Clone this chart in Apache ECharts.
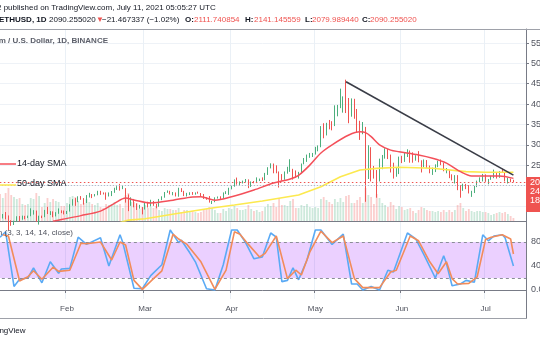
<!DOCTYPE html>
<html><head><meta charset="utf-8">
<script src="https://cdn.jsdelivr.net/npm/echarts@6/dist/echarts.min.js"></script>
<style>html,body{margin:0;padding:0;background:#fff}#c{width:540px;height:340px}</style>
</head><body><div id="c"></div>
<script>
// ETHUSD daily candles, 2021-01-07 .. 2021-07-11, rows are [open, close, low, high]
const ohlc = [
  // Jan 7 - Jan 31
  [1208,1225,1130,1282],[1225,1224,1100,1265],[1224,1281,1190,1300],[1281,1262,1170,1348],
  [1262,1090,900,1265],[1090,1043,1010,1147],[1043,1130,1030,1135],[1130,1218,1108,1245],
  [1218,1171,1120,1250],[1171,1233,1160,1260],[1233,1230,1170,1255],[1230,1257,1200,1260],
  [1257,1377,1245,1440],[1377,1382,1285,1395],[1382,1121,1110,1385],[1121,1236,1040,1258],
  [1236,1232,1200,1260],[1232,1390,1222,1400],[1390,1324,1300,1475],[1324,1357,1275,1370],
  [1357,1253,1220,1365],[1253,1332,1240,1345],[1332,1382,1305,1437],[1382,1378,1320,1390],
  [1378,1314,1290,1385],
  // Feb
  [1314,1369,1300,1375],[1369,1514,1360,1540],[1514,1660,1505,1665],[1660,1594,1500,1690],
  [1594,1718,1590,1735],[1718,1677,1650,1740],[1677,1614,1530,1690],[1614,1746,1570,1765],
  [1746,1768,1705,1820],[1768,1743,1690,1790],[1743,1783,1730,1790],[1783,1843,1760,1870],
  [1843,1814,1770,1870],[1814,1800,1780,1830],[1800,1779,1650,1830],[1779,1781,1730,1830],
  [1781,1849,1740,1865],[1849,1937,1820,1945],[1937,1960,1890,1985],[1960,1919,1875,2040],
  [1919,1935,1910,1990],[1935,1781,1580,1935],[1781,1570,1370,1782],[1570,1626,1500,1710],
  [1626,1475,1465,1670],[1475,1446,1400,1560],[1446,1459,1430,1525],[1459,1417,1290,1470],
  // Mar
  [1417,1564,1410,1570],[1564,1492,1460,1600],[1492,1575,1485,1650],[1575,1541,1500,1620],
  [1541,1533,1440,1550],[1533,1654,1480,1670],[1654,1723,1640,1735],[1723,1834,1700,1840],
  [1834,1868,1820,1880],[1868,1795,1780,1870],[1795,1826,1760,1840],[1826,1765,1730,1830],
  [1765,1924,1725,1945],[1924,1855,1840,1935],[1855,1791,1740,1870],[1791,1806,1730,1820],
  [1806,1823,1765,1835],[1823,1782,1770,1840],[1782,1813,1775,1830],[1813,1809,1800,1850],
  [1809,1781,1730,1815],[1781,1680,1670,1790],[1680,1669,1650,1710],[1669,1586,1580,1740],
  [1586,1594,1545,1620],[1594,1700,1590,1710],[1700,1715,1680,1730],[1715,1689,1670,1735],
  [1689,1816,1680,1830],[1816,1841,1790,1860],[1841,1918,1770,1945],
  // Apr
  [1918,1977,1905,1995],[1977,2143,1970,2150],[2143,2028,2020,2195],[2028,2093,2005,2100],
  [2093,2108,2050,2120],[2108,2117,2075,2160],[2117,1971,1935,2150],[1971,2088,1965,2100],
  [2088,2072,2055,2110],[2072,2136,2060,2200],[2136,2158,2110,2170],[2158,2139,2110,2200],
  [2139,2300,2130,2310],[2300,2431,2260,2450],[2431,2515,2420,2545],[2515,2421,2300,2540],
  [2421,2317,2300,2495],[2317,2235,1950,2345],[2235,2171,2120,2280],[2171,2330,2140,2345],
  [2330,2364,2290,2460],[2364,2403,2335,2645],[2403,2363,2145,2410],[2363,2213,2190,2370],
  [2213,2302,2170,2335],[2302,2534,2300,2540],[2534,2663,2520,2675],[2663,2746,2580,2760],
  [2746,2756,2680,2800],[2756,2773,2700,2800],
  // May
  [2773,2945,2760,2950],[2945,2950,2840,2985],[2950,3431,2940,3460],[3431,3253,3160,3530],
  [3253,3522,3230,3540],[3522,3490,3380,3610],[3490,3484,3355,3580],[3484,3902,3460,3970],
  [3902,3928,3700,3980],[3928,3952,3900,4380],[3952,4168,3790,4190],[4168,3785,3780,4600],
  [3785,3715,3530,4150],[3715,4079,3690,4140],[4079,3643,3640,4130],[3643,3589,3300,3880],
  [3589,3282,3120,3590],[3282,3374,3260,3560],[3374,2460,1600,3440],[2460,2784,2160,2990],
  [2784,2429,2100,2940],[2429,2296,2170,2480],[2296,2109,1700,2380],[2109,2643,2100,2660],
  [2643,2706,2400,2750],[2706,2888,2660,2915],[2888,2736,2650,2900],[2736,2419,2320,2760],
  [2419,2279,2170,2560],[2279,2387,2215,2450],[2387,2706,2280,2710],
  // Jun
  [2706,2634,2550,2730],[2634,2706,2580,2800],[2706,2855,2700,2890],[2855,2688,2560,2860],
  [2688,2630,2560,2815],[2630,2715,2610,2745],[2715,2590,2570,2845],[2590,2517,2320,2620],
  [2517,2611,2450,2640],[2611,2472,2430,2625],[2472,2354,2300,2490],[2354,2372,2260,2440],
  [2372,2508,2330,2520],[2508,2585,2450,2610],[2585,2547,2500,2640],[2547,2368,2350,2560],
  [2368,2372,2300,2430],[2372,2231,2180,2380],[2231,2178,2125,2275],[2178,2245,2050,2255],
  [2245,1888,1885,2255],[1888,1874,1700,2010],[1874,1990,1870,2045],[1990,1989,1910,2040],
  [1989,1813,1805,2010],[1813,1829,1720,1870],[1829,1978,1815,1990],[1978,2084,1960,2120],
  [2084,2167,2080,2200],[2167,2275,2100,2285],
  // Jul 1 - Jul 11
  [2275,2114,2090,2275],[2114,2150,2030,2160],[2150,2226,2140,2240],[2226,2322,2180,2390],
  [2322,2198,2170,2325],[2198,2324,2190,2355],[2324,2316,2310,2410],[2316,2117,2100,2320],
  [2117,2146,2050,2190],[2146,2111.740854,2080,2170],
  [2111.740854,2090.255020,2079.989440,2141.145559]
];

// daily volume (thousand ETH)
const volume = [
  2900,2700,2300,2800,3300,2600,2400,2200,2300,1700,1600,1700,2300,2200,2800,2500,1400,1800,2300,1900,2200,2000,1900,1500,1500,
  1800,2400,2500,2400,2000,1700,1800,2200,1900,1700,1600,1800,1400,1300,1700,1600,1700,1900,1600,1700,1300,2600,2800,1900,1900,1800,1200,1400,
  1600,1300,1400,1300,1500,1100,1000,1300,1200,1200,1100,1100,1300,900,1100,1100,1000,1000,900,800,900,1200,1200,1400,1300,1100,800,800,1200,1000,1300,
  1200,1500,1300,1100,1100,1200,1600,1200,1000,1100,900,1000,1400,1700,1500,1800,1400,2300,1600,1600,1500,2000,2200,1300,1300,1600,1500,1700,1400,1300,
  1400,1300,2200,2400,2100,1900,1700,2200,1900,2300,1900,2500,2600,1800,1800,2100,2400,1800,3300,2600,2400,1700,2700,2300,1800,1600,1400,1900,1600,1200,1500,
  1400,1100,1200,1300,1000,800,1100,1400,1300,1100,1000,1000,900,1000,900,1100,900,1100,900,1100,1600,1800,1300,1000,1200,1000,900,1000,1000,900,
  900,800,600,700,800,900,800,900,700,500,300
];

// 14-day SMA (red)
const sma14 = [
  ['2021-01-27',1120],['2021-01-30',1165],['2021-02-06',1260],['2021-02-13',1370],['2021-02-18',1560],
  ['2021-02-22',1690],['2021-02-25',1645],['2021-03-03',1570],['2021-03-11',1640],['2021-03-18',1720],
  ['2021-03-21',1725],['2021-03-26',1640],['2021-04-01',1725],['2021-04-09',1890],['2021-04-16',2060],
  ['2021-04-22',2160],['2021-04-25',2250],['2021-04-29',2500],['2021-05-03',2800],['2021-05-07',3000],
  ['2021-05-13',3240],['2021-05-17',3320],['2021-05-19',3300],['2021-05-21',3200],['2021-05-24',3000],
  ['2021-05-28',2870],['2021-05-31',2830],['2021-06-07',2750],['2021-06-12',2670],['2021-06-17',2550],
  ['2021-06-22',2340],['2021-06-26',2235],['2021-07-01',2235],['2021-07-06',2235],['2021-07-11',2175]
];

// 50-day SMA (yellow)
const sma50 = [
  ['2021-02-20',1090],['2021-02-23',1150],['2021-03-01',1185],['2021-03-13',1320],['2021-03-25',1447],
  ['2021-04-02',1520],['2021-04-12',1620],['2021-04-25',1767],['2021-05-03',1970],['2021-05-10',2216],
  ['2021-05-17',2380],['2021-05-23',2420],['2021-05-31',2447],['2021-06-12',2423],['2021-06-24',2340],
  ['2021-07-01',2324],['2021-07-11',2324]
];

// Stochastic %K (blue)
const stochK = [
  ['2021-01-08',88],['2021-01-10',97],['2021-01-13',6],['2021-01-15',18],['2021-01-18',20],['2021-01-20',37],
  ['2021-01-23',12],['2021-01-26',47],['2021-01-29',28],['2021-01-30',35],['2021-02-02',36],['2021-02-05',88],
  ['2021-02-08',76],['2021-02-13',87],['2021-02-16',40],['2021-02-20',92],['2021-02-21',79],['2021-02-25',3],
  ['2021-02-28',2],['2021-03-03',24],['2021-03-07',42],['2021-03-10',100],['2021-03-13',79],['2021-03-14',83],
  ['2021-03-17',62],['2021-03-19',47],['2021-03-23',2],['2021-03-26',0],['2021-03-29',42],['2021-04-01',100],
  ['2021-04-03',100],['2021-04-06',79],['2021-04-09',52],['2021-04-12',55],['2021-04-15',95],['2021-04-17',88],
  ['2021-04-19',14],['2021-04-21',16],['2021-04-23',37],['2021-04-25',17],['2021-04-28',50],['2021-05-01',100],
  ['2021-05-03',100],['2021-05-07',76],['2021-05-11',93],['2021-05-14',10],['2021-05-16',10],['2021-05-18',0],
  ['2021-05-21',6],['2021-05-24',0],['2021-05-27',33],['2021-05-29',30],['2021-06-03',95],['2021-06-06',85],
  ['2021-06-09',58],['2021-06-13',20],['2021-06-16',57],['2021-06-17',44],['2021-06-19',7],['2021-06-22',10],
  ['2021-06-24',16],['2021-06-27',13],['2021-06-30',92],['2021-07-02',82],['2021-07-04',90],['2021-07-07',92],
  ['2021-07-08',87],['2021-07-11',40]
];

// Stochastic %D (orange)
const stochD = [
  ['2021-01-09',92],['2021-01-11',90],['2021-01-15',15],['2021-01-18',22],['2021-01-20',32],['2021-01-23',18],
  ['2021-01-27',38],['2021-01-29',31],['2021-02-02',33],['2021-02-06',78],['2021-02-08',77],['2021-02-13',80],
  ['2021-02-17',50],['2021-02-20',80],['2021-02-22',75],['2021-02-25',16],['2021-02-28',1],['2021-03-04',19],
  ['2021-03-07',32],['2021-03-11',93],['2021-03-13',85],['2021-03-16',76],['2021-03-21',47],['2021-03-26',1],
  ['2021-03-30',33],['2021-04-02',97],['2021-04-04',93],['2021-04-07',76],['2021-04-11',55],['2021-04-13',61],
  ['2021-04-17',90],['2021-04-21',19],['2021-04-24',33],['2021-04-26',25],['2021-04-29',63],['2021-05-03',98],
  ['2021-05-07',79],['2021-05-11',90],['2021-05-15',19],['2021-05-18',4],['2021-05-21',4],['2021-05-24',4],
  ['2021-05-28',30],['2021-05-30',33],['2021-06-04',90],['2021-06-07',82],['2021-06-11',47],['2021-06-14',27],
  ['2021-06-17',47],['2021-06-19',19],['2021-06-21',10],['2021-06-25',11],['2021-06-28',22],['2021-07-01',84],
  ['2021-07-03',88],['2021-07-07',92],['2021-07-10',85],['2021-07-11',60]
];

// Price axis labels and stochastic axis labels
const priceTicks = [1500,2000,2500,3000,3500,4000,4500,5000,5500];
const stochTicks = [0,40,80];
const monthNames = ['Jan','Feb','Mar','Apr','May','Jun','Jul','Aug','Sep','Oct','Nov','Dec'];

// trend line drawn from the May high
const trendLine = [['2021-05-12',4550],['2021-07-11',2255]];
const lastPrice = 2090.255020;

// calendar days, with a few empty days kept on the right
const days = [];
{
  const t0 = Date.UTC(2021,0,7);
  for (let i = 0; i < 190; i++) {
    const d = new Date(t0 + i*86400000);
    days.push(d.toISOString().slice(0,10));
  }
}
const isMonthStart = (i, v) => typeof v === 'string' ? v.slice(8) === '01' : days[i] && days[i].slice(8) === '01';

const UP = '#4caf7d', DOWN = '#ef5350';
const FONT = 'Liberation Sans, Arial, sans-serif';
const GRIDL = -4.14, GRIDR = 14;

const chart = echarts.init(document.getElementById('c'), null, {renderer:'canvas'});

const volData = volume.map((v, i) => ({
  value: v,
  itemStyle: { color: ohlc[i][1] >= ohlc[i][0] ? 'rgba(76,175,125,0.28)' : 'rgba(239,83,80,0.28)' }
}));

const gridBase = { left: GRIDL, right: GRIDR, containLabel:false, outerBoundsMode:'none' };

// OHLC status line pieces: [x, text, colour, bold]
const statusLine = [
  [-1, 'ETHUSD, 1D', '#131722', true],
  [49, '2090.255020', '#131722', false],
  [96, '▼', '#ef5350', false],
  [102, '−21.467337 (−1.02%)', '#131722', false],
  [185, 'O:', '#131722', true],
  [194, '2111.740854', '#ef5350', false],
  [245, 'H:', '#131722', true],
  [254, '2141.145559', '#ef5350', false],
  [305, 'L:', '#131722', true],
  [312, '2079.989440', '#ef5350', false],
  [362, 'C:', '#131722', true],
  [370, '2090.255020', '#ef5350', false]
];

chart.setOption({
  animation: false,
  backgroundColor: '#ffffff',
  grid: [
    Object.assign({ top: 29, height: 192 }, gridBase),
    Object.assign({ top: 29, height: 192 }, gridBase),
    Object.assign({ top: 221, height: 78 }, gridBase)
  ],
  xAxis: [
    { type:'category', gridIndex:0, data: days, boundaryGap:true,
      axisLine:{show:true, lineStyle:{color:'#787b86', width:1}}, axisTick:{show:false}, axisLabel:{show:false},
      splitLine:{show:true, interval:isMonthStart, lineStyle:{color:'#eaf0f6', width:1}} },
    { type:'category', gridIndex:1, data: days, boundaryGap:true, show:false },
    { type:'category', gridIndex:2, data: days, boundaryGap:true,
      axisLine:{show:true, lineStyle:{color:'#787b86', width:1}},
      axisTick:{show:true, interval:isMonthStart, length:3, lineStyle:{color:'#787b86'}},
      axisLabel:{show:true, interval:isMonthStart, color:'#50535e', fontSize:8, fontFamily:FONT, margin:6,
        formatter: v => monthNames[+v.slice(5,7)-1]},
      splitLine:{show:true, interval:isMonthStart, lineStyle:{color:'#eaf0f6', width:1}} }
  ],
  yAxis: [
    { type:'value', gridIndex:0, position:'right', min:1128, max:5845, splitNumber:9,
      axisLine:{show:true, lineStyle:{color:'#787b86'}},
      axisTick:{show:true, length:3, lineStyle:{color:'#787b86'}},
      axisLabel:{show:true, showMinLabel:false, showMaxLabel:false, color:'#50535e', fontSize:9, fontFamily:FONT, margin:5,
        formatter: v => priceTicks.includes(v) ? v.toFixed(6) : ''},
      splitLine:{show:true, lineStyle:{color:'#eef2f7', width:1}} },
    { type:'value', gridIndex:1, min:0, max:19200, show:false, splitLine:{show:false} },
    { type:'value', gridIndex:2, position:'right', min:-15, max:115, splitNumber:6,
      axisLine:{show:true, lineStyle:{color:'#787b86'}},
      axisTick:{show:false},
      axisLabel:{show:true, showMinLabel:false, showMaxLabel:false, color:'#50535e', fontSize:9, fontFamily:FONT, margin:5,
        formatter: v => stochTicks.includes(v) ? v.toFixed(2) : ''},
      splitLine:{show:false} }
  ],
  series: [
    { type:'bar', xAxisIndex:1, yAxisIndex:1, data: volData, barWidth:'65%', z:1, silent:true },
    { type:'candlestick', xAxisIndex:0, yAxisIndex:0, data: ohlc, barWidth:1.3, z:3, clip:true,
      itemStyle:{ color:UP, color0:DOWN, borderColor:UP, borderColor0:DOWN, borderWidth:1 },
      markLine:{ silent:true, symbol:['none','none'], animation:false, label:{show:false},
        data:[
          { yAxis:lastPrice, lineStyle:{color:'#ef5350', type:[1.5,2.5], width:1.2} },
          { yAxis:2000, lineStyle:{color:'#a9b4c4', type:[1,2], width:1} },
          [ { coord: trendLine[0] }, { coord: trendLine[1], lineStyle:{color:'#3a3d47', width:1.6, type:'solid'} } ]
        ] } },
    { type:'line', xAxisIndex:0, yAxisIndex:0, data: sma50, symbol:'none', z:4, clip:true,
      lineStyle:{color:'#fce94f', width:1.6} },
    { type:'line', xAxisIndex:0, yAxisIndex:0, data: sma14, symbol:'none', z:5, clip:true, smooth:0.3,
      lineStyle:{color:'#f4505a', width:1.5} },
    { type:'line', xAxisIndex:2, yAxisIndex:2, data: stochK, symbol:'none', z:4,
      lineStyle:{color:'#5aaaf5', width:1.6},
      markArea:{ silent:true, itemStyle:{color:'rgba(153,21,255,0.2)'}, data:[[{yAxis:20},{yAxis:80}]] },
      markLine:{ silent:true, symbol:['none','none'], label:{show:false},
        lineStyle:{color:'#8a8d96', type:[3,3], width:1}, data:[{yAxis:80},{yAxis:20}] } },
    { type:'line', xAxisIndex:2, yAxisIndex:2, data: stochD, symbol:'none', z:5,
      lineStyle:{color:'#f28c5a', width:1.6} }
  ],
  graphic: [
    { type:'line', shape:{x1:0, y1:29.5, x2:540, y2:29.5}, style:{stroke:'#9ea1a9', lineWidth:1}, z:10 },
    { type:'line', shape:{x1:526.5, y1:299, x2:526.5, y2:318}, style:{stroke:'#787b86', lineWidth:1}, z:10 },
    { type:'line', shape:{x1:0, y1:318.5, x2:527, y2:318.5}, style:{stroke:'#9ea1a9', lineWidth:1}, z:10 },
    { type:'text', x:-3, y:7.5, z:10, style:{ text:'2 published on TradingView.com, July 11, 2021 05:05:27 UTC',
        font:'8px ' + FONT, fill:'#131722', verticalAlign:'middle' } }
  ].concat(statusLine.map(([x, t, c, b]) => ({
    type:'text', x:x, y:19.5, z:10,
    style:{ text:t, font:(b ? 'bold ' : '') + '8px ' + FONT, fill:c, verticalAlign:'middle' }
  }))).concat([
    { type:'text', x:108, y:41, z:10, style:{ text:'Ethereum / U.S. Dollar, 1D, BINANCE',
        font:'bold 8px ' + FONT, fill:'#5d606b', align:'right', verticalAlign:'middle' } },
    { type:'line', shape:{x1:0, y1:164, x2:16, y2:164}, style:{stroke:'#f4505a', lineWidth:1.5}, z:10 },
    { type:'text', x:17, y:163.5, z:10, style:{ text:'14-day SMA', font:'9px ' + FONT, fill:'#131722', verticalAlign:'middle' } },
    { type:'line', shape:{x1:0, y1:185, x2:16, y2:185}, style:{stroke:'#fce94f', lineWidth:1.5}, z:10 },
    { type:'text', x:17, y:183.5, z:10, style:{ text:'50-day SMA', font:'9px ' + FONT, fill:'#131722', verticalAlign:'middle' } },
    { type:'text', x:73, y:233, z:10, style:{ text:'Stoch (3, 3, 14, 14, close)', font:'8px ' + FONT, fill:'#50535e',
        align:'right', verticalAlign:'middle' } },
    { type:'rect', shape:{x:526, y:177, width:20, height:35}, style:{fill:'#ef5350'}, z:12 },
    { type:'text', x:530, y:182.5, z:13, style:{ text:'2090.255020', font:'9px ' + FONT, fill:'#ffffff', verticalAlign:'middle' } },
    { type:'text', x:530, y:191.5, z:13, style:{ text:'24', font:'9px ' + FONT, fill:'#ffffff', verticalAlign:'middle' } },
    { type:'text', x:530, y:200.5, z:13, style:{ text:'18:54:33', font:'9px ' + FONT, fill:'#ffffff', verticalAlign:'middle' } },
    { type:'text', x:25.5, y:331, z:10, style:{ text:'TradingView', font:'8px ' + FONT, fill:'#131722',
        align:'right', verticalAlign:'middle' } }
  ])
});
</script>
</body></html>
